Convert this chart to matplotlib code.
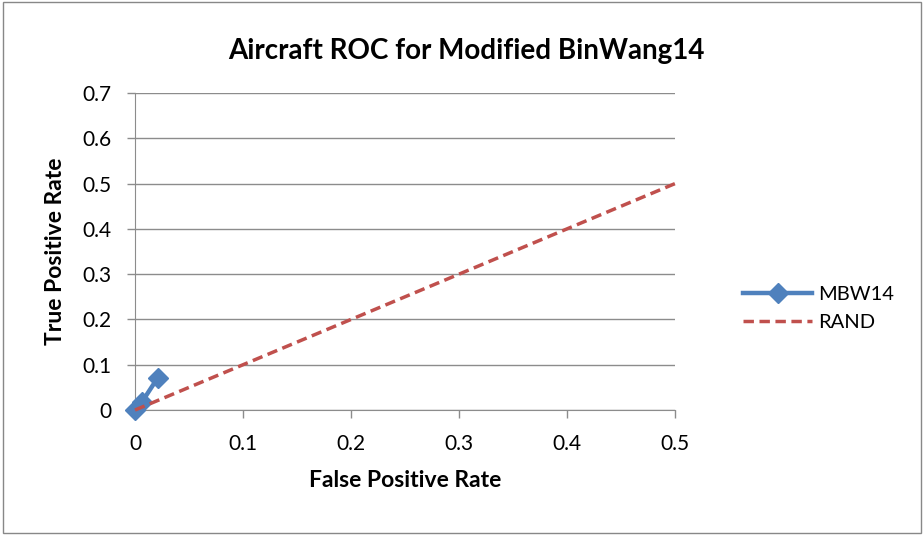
import matplotlib
matplotlib.use("Agg")
import matplotlib.pyplot as plt
from matplotlib.patches import Rectangle

plt.rcParams["font.family"] = ["Lato", "DejaVu Sans"]

mbw_fpr = [0.0, 0.0065, 0.021]
mbw_tpr = [0.0, 0.018, 0.071]
rand_fpr = [0.0, 0.5]
rand_tpr = [0.0, 0.5]
xticks = [0, 0.1, 0.2, 0.3, 0.4, 0.5]
yticks = [0, 0.1, 0.2, 0.3, 0.4, 0.5, 0.6, 0.7]

fig = plt.figure(figsize=(9.24, 5.35), dpi=100)
fig.patches.append(Rectangle((0.003, 0.004), 0.994, 0.992, transform=fig.transFigure,
                             fill=False, edgecolor="#888888", lw=1))
ax = fig.add_axes([0.1461, 0.2336, 0.5844, 0.5925])

ax.plot(mbw_fpr, mbw_tpr, "-", color="#4F81BD", lw=3.2, marker="D", ms=10,
        mfc="#4F81BD", mec="#4F81BD", label="MBW14", zorder=3, clip_on=False)
ax.plot(rand_fpr, rand_tpr, "--", color="#C0504D", lw=2.5, dashes=(3, 1.6),
        label="RAND", zorder=4, clip_on=False)

ax.set_xlim(0, 0.5)
ax.set_ylim(0, 0.7)
ax.set_xticks(xticks)
ax.set_xticklabels(["0" if t == 0 else f"{t:g}" for t in xticks])
ax.set_yticks(yticks)
ax.set_yticklabels(["0" if t == 0 else f"{t:g}" for t in yticks])
ax.yaxis.grid(True, color="#8C8C8C", lw=1)
ax.set_axisbelow(True)
for s in ("top", "right"):
    ax.spines[s].set_visible(False)
for s in ("left", "bottom"):
    ax.spines[s].set_color("#8C8C8C")
ax.tick_params(axis="both", colors="#8C8C8C", labelcolor="black", labelsize=15, length=6, width=1)
ax.tick_params(axis="y", pad=11)
ax.tick_params(axis="x", pad=11)

ax.set_xlabel("False Positive Rate", fontsize=16.5, fontweight="bold", labelpad=12)
ax.set_ylabel("True Positive Rate", fontsize=16.5, fontweight="bold", labelpad=12)
fig.text(0.505, 0.905, "Aircraft ROC for Modified BinWang14", ha="center", va="center",
         fontsize=20, fontweight="bold")

fig.legend(loc="center left", bbox_to_anchor=(0.785, 0.423), frameon=False,
           fontsize=14.5, handlelength=3.4, labelspacing=0.55, handletextpad=0.3)

fig.savefig("out.png", dpi=100)
